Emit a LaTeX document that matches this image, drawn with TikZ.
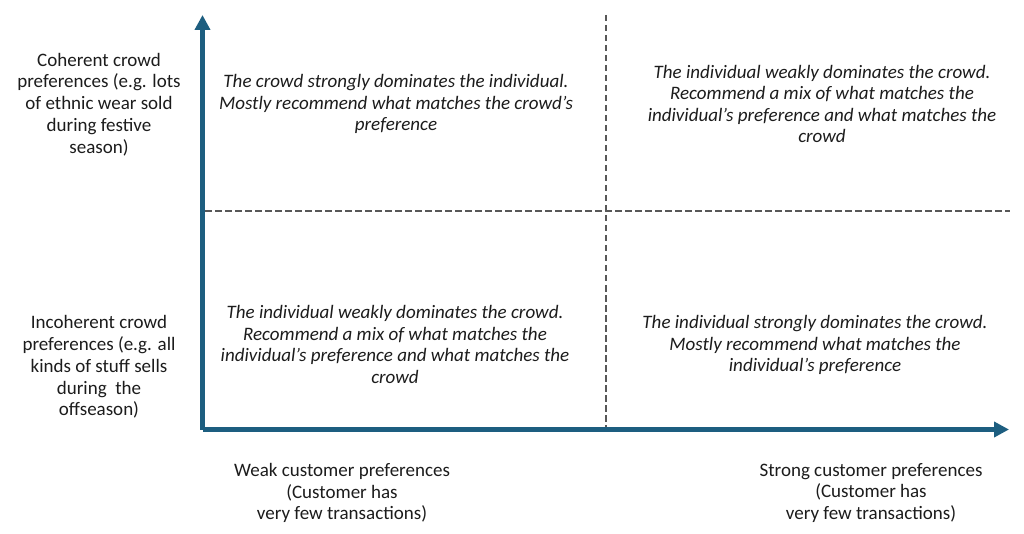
\documentclass[tikz,border=0pt]{standalone}
\usepackage{fontspec}
\setmainfont{Carlito}
\usetikzlibrary{arrows.meta}
\definecolor{axisblue}{RGB}{29,94,128}
\definecolor{dashgray}{RGB}{88,88,88}
\definecolor{txt}{RGB}{28,28,28}
\tikzset{
  axis/.style={line width=5pt, axisblue, line join=round, -{Triangle[length=15pt,width=15pt]}},
  divider/.style={line width=2pt, dashgray, dash pattern=on 6.5pt off 3.5pt},
  lab/.style={align=center, text=txt, font=\fontsize{19}{21.8}\selectfont, inner sep=0pt},
  quad/.style={align=center, text=txt, font=\fontsize{19}{21.6}\selectfont\itshape, inner sep=0pt}
}
\begin{document}
\begin{tikzpicture}[x=1pt,y=-1pt]
\useasboundingbox[fill=white] (0,0) rectangle (1024,534);
\coordinate (top) at (202.5,15);
\coordinate (origin) at (202.5,429.5);
\coordinate (right) at (1009,429.5);
\coordinate (vtop) at (605.5,15);
\coordinate (vbot) at (605.5,429);
\coordinate (hleft) at (205,210.7);
\coordinate (hright) at (1010,210.7);
\draw[divider] (vtop) -- (vbot);
\draw[divider] (hleft) -- (hright);
\draw[axis] (origin) -- (top);
\draw[axis] (origin) -- (right);
\node[lab] (lt) at (99,104.5) {Coherent crowd\\preferences (e.g. lots\\of ethnic wear sold\\during festive\\season)};
\node[lab] (lb) at (99,367) {Incoherent crowd\\preferences (e.g. all\\kinds of stuff sells\\during\ \ the\\offseason)};
\node[quad] (tl) at (396,104) {The crowd strongly dominates the individual.\\Mostly recommend what matches the crowd’s\\preference};
\node[quad] (tr) at (822,104) {The individual weakly dominates the crowd.\\Recommend a mix of what matches the\\individual’s preference and what matches the\\crowd};
\node[quad] (bl) at (395,344.5) {The individual weakly dominates the crowd.\\Recommend a mix of what matches the\\individual’s preference and what matches the\\crowd};
\node[quad] (br) at (815,345) {The individual strongly dominates the crowd.\\Mostly recommend what matches the\\individual’s preference};
\node[lab] (bw) at (342,493) {Weak customer preferences\\(Customer has\\very few transactions)};
\node[lab] (bs) at (871,493) {Strong customer preferences\\(Customer has\\very few transactions)};
\end{tikzpicture}
\end{document}
